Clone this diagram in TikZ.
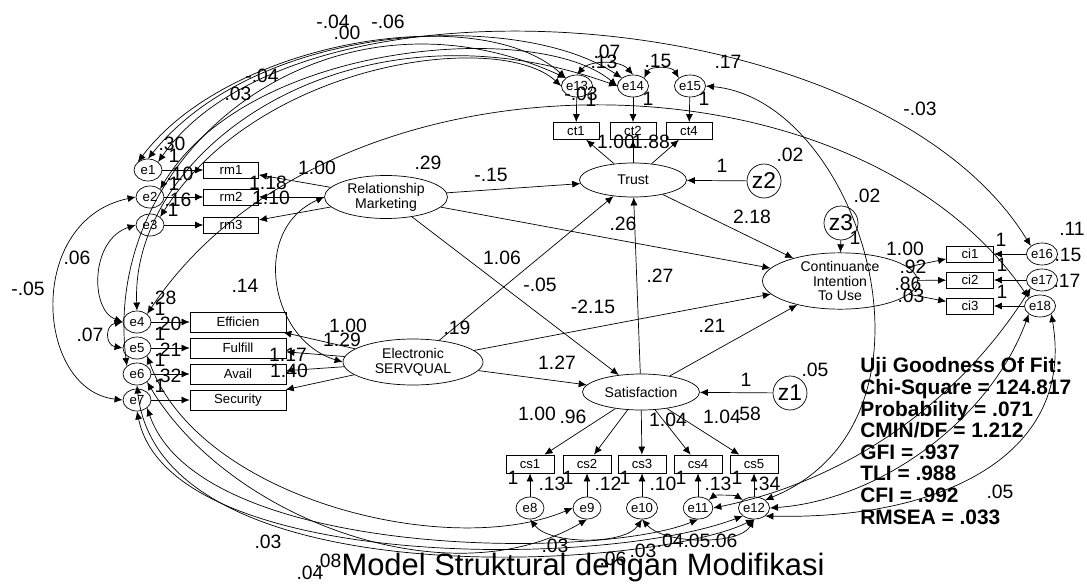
\documentclass[tikz,border=0pt]{standalone}
\usepackage{fontspec}
\setmainfont{Liberation Sans}
\usetikzlibrary{shapes,arrows,arrows.meta}

\begin{document}
\begin{tikzpicture}[x=0.02cm,y=-0.02cm,>={Latex[length=4.6pt,width=4pt]},
  ind/.style={draw,rectangle,inner sep=0pt,font=\fontsize{7.5}{8}\selectfont},
  err/.style={draw,ellipse,minimum width=0.56cm,minimum height=0.44cm,inner sep=0pt,font=\fontsize{7.5}{8}\selectfont},
  lat/.style={draw,ellipse,inner sep=0pt,align=center,font=\fontsize{8}{8.4}\selectfont},
  dist/.style={draw,circle,minimum size=0.68cm,inner sep=0pt,font=\fontsize{13}{14}\selectfont},
  num/.style={inner sep=0pt,font=\fontsize{11}{12}\selectfont}]
\useasboundingbox (0,0) rectangle (1087,584);

% latent variables
\node[lat,minimum width=2.46cm,minimum height=0.86cm] (RM) at (386,197) {Relationship\\Marketing};
\node[lat,minimum width=2.8cm,minimum height=0.92cm] (ES) at (413,362) {Electronic\\SERVQUAL};
\node[lat,minimum width=2.14cm,minimum height=0.68cm] (Trust) at (633,180) {Trust};
\node[lat,minimum width=2.34cm,minimum height=0.72cm] (Sat) at (641,392) {Satisfaction};
\node[lat,minimum width=3.1cm,minimum height=1.06cm] (CI) at (840,281) {Continuance\\Intention\\To Use};
\node[dist] (z2) at (764,181) {z2};
\node[dist] (z3) at (841,223) {z3};
\node[dist] (z1) at (790,393) {z1};

% indicators
\node[ind,minimum width=1.1cm,minimum height=0.32cm] (rm1) at (231,170) {rm1};
\node[ind,minimum width=1.1cm,minimum height=0.32cm] (rm2) at (231,197) {rm2};
\node[ind,minimum width=1.1cm,minimum height=0.32cm] (rm3) at (231,225) {rm3};
\node[ind,minimum width=1.92cm,minimum height=0.4cm] (eff) at (238,322) {Efficien};
\node[ind,minimum width=1.92cm,minimum height=0.4cm] (ful) at (238,348) {Fulfill};
\node[ind,minimum width=1.92cm,minimum height=0.4cm] (ava) at (238,374) {Avail};
\node[ind,minimum width=1.92cm,minimum height=0.4cm] (sec) at (238,400) {Security};
\node[ind,minimum width=0.92cm,minimum height=0.34cm] (ct1) at (576,131) {ct1};
\node[ind,minimum width=0.92cm,minimum height=0.34cm] (ct2) at (633,131) {ct2};
\node[ind,minimum width=0.92cm,minimum height=0.34cm] (ct4) at (689,131) {ct4};
\node[ind,minimum width=0.94cm,minimum height=0.32cm] (ci1) at (970,254) {ci1};
\node[ind,minimum width=0.94cm,minimum height=0.32cm] (ci2) at (970,280) {ci2};
\node[ind,minimum width=0.94cm,minimum height=0.32cm] (ci3) at (970,306) {ci3};
\node[ind,minimum width=0.96cm,minimum height=0.36cm] (cs1) at (530,464) {cs1};
\node[ind,minimum width=0.96cm,minimum height=0.36cm] (cs2) at (587,464) {cs2};
\node[ind,minimum width=0.96cm,minimum height=0.36cm] (cs3) at (642,464) {cs3};
\node[ind,minimum width=0.96cm,minimum height=0.36cm] (cs4) at (698,464) {cs4};
\node[ind,minimum width=0.96cm,minimum height=0.36cm] (cs5) at (754,464) {cs5};

% errors
\node[err] (e1) at (148,170) {e1};
\node[err] (e2) at (150,197) {e2};
\node[err] (e3) at (150,225) {e3};
\node[err] (e4) at (137,322) {e4};
\node[err] (e5) at (137,348) {e5};
\node[err] (e6) at (137,374) {e6};
\node[err] (e7) at (137,400) {e7};
\node[err] (e13) at (577,86) {e13};
\node[err] (e14) at (633,86) {e14};
\node[err] (e15) at (690,86) {e15};
\node[err] (e16) at (1042,254) {e16};
\node[err] (e17) at (1042,280) {e17};
\node[err] (e18) at (1040,306) {e18};
\node[err] (e8) at (530,508) {e8};
\node[err] (e9) at (587,508) {e9};
\node[err] (e10) at (642,508) {e10};
\node[err] (e11) at (698,508) {e11};
\node[err] (e12) at (754,508) {e12};

% measurement paths
\draw[->] (RM) -- (rm1);
\draw[->] (RM) -- (rm2);
\draw[->] (RM) -- (rm3);
\draw[->] (ES) -- (eff);
\draw[->] (ES) -- (ful);
\draw[->] (ES) -- (ava);
\draw[->] (ES) -- (sec);
\draw[->] (Trust) -- (ct1);
\draw[->] (Trust) -- (ct2);
\draw[->] (Trust) -- (ct4);
\draw[->] (CI) -- (ci1);
\draw[->] (CI) -- (ci2);
\draw[->] (CI) -- (ci3);
\draw[->] (Sat) -- (cs1);
\draw[->] (Sat) -- (cs2);
\draw[->] (Sat) -- (cs3);
\draw[->] (Sat) -- (cs4);
\draw[->] (Sat) -- (cs5);
\draw[->] (e1) -- (rm1);
\draw[->] (e2) -- (rm2);
\draw[->] (e3) -- (rm3);
\draw[->] (e4) -- (eff);
\draw[->] (e5) -- (ful);
\draw[->] (e6) -- (ava);
\draw[->] (e7) -- (sec);
\draw[->] (e13) -- (ct1);
\draw[->] (e14) -- (ct2);
\draw[->] (e15) -- (ct4);
\draw[->] (e16) -- (ci1);
\draw[->] (e17) -- (ci2);
\draw[->] (e18) -- (ci3);
\draw[->] (e8) -- (cs1);
\draw[->] (e9) -- (cs2);
\draw[->] (e10) -- (cs3);
\draw[->] (e11) -- (cs4);
\draw[->] (e12) -- (cs5);

% structural paths
\draw[->] (RM) -- (Trust);
\draw[->] (RM) -- (Sat);
\draw[->] (RM) -- (CI);
\draw[->] (ES) -- (Trust);
\draw[->] (ES) -- (Sat);
\draw[->] (ES) -- (CI);
\draw[->] (Sat) -- (Trust);
\draw[->] (Sat) -- (CI);
\draw[->] (Trust) -- (CI);
\draw[->] (z2) -- (Trust);
\draw[->] (z3) -- (CI);
\draw[->] (z1) -- (Sat);
\draw[<->] (RM.west) .. controls (250,230) and (270,340) .. (ES.west);

% covariances, top
\draw[<->] (e1.north west) .. controls (230,40) and (480,0) .. (e13.north west);
\draw[<->] (e1.north) .. controls (260,20) and (520,10) .. (e14.north west);
\draw[<->] (e2.north east) .. controls (250,40) and (540,20) .. (e14.west);
\draw[<->] (e3.north east) .. controls (260,60) and (500,30) .. (e13.west);
\draw[<->] (e1.north east) .. controls (300,-40) and (880,0) .. (e16.north west);
\draw[<->] (e13.north) .. controls (590,60) and (620,60) .. (e14.north);
\draw[<->] (e14.north east) .. controls (650,66) and (672,66) .. (e15.north west);
\draw[<->] (e15.east) .. controls (860,100) and (960,420) .. (e12.north east);
\draw[<->] (e4.north east) .. controls (330,40) and (850,40) .. (e18.north west);
\draw[<->] (e6.north west) .. controls (100,150) and (330,-30) .. (e13.north west);
\draw[<->] (e4.north) .. controls (130,150) and (350,-10) .. (e14.west);
% covariances, left
\draw[<->] (e2.west) .. controls (25,220) and (35,390) .. (e7.west);
\draw[<->] (e3.west) .. controls (90,240) and (90,310) .. (e4.west);
\draw[<->] (e4.west) .. controls (105,325) and (105,345) .. (e5.west);
% covariances, bottom
\draw[<->] (e5.south east) .. controls (200,500) and (450,560) .. (e9.west);
\draw[<->] (e6.south east) .. controls (230,520) and (450,600) .. (e9.south);
\draw[<->] (e7.south) .. controls (170,570) and (600,570) .. (e12.south west);
\draw[<->] (e7.south east) .. controls (200,560) and (600,560) .. (e11.south);
\draw[<->] (e6.south) .. controls (160,600) and (650,570) .. (e12.south);
\draw[<->] (e8.south) .. controls (550,545) and (625,545) .. (e10.south);
\draw[<->] (e10.south) .. controls (665,545) and (740,545) .. (e12.south);
\draw[<->] (e11.north east) .. controls (715,495) and (735,495) .. (e12.north west);
% covariances, right
\draw[<->] (e17.south west) .. controls (960,400) and (850,480) .. (e11.east);
\draw[<->] (e18.south west) .. controls (990,420) and (880,500) .. (e12.east);
\draw[<->] (e18.south east) .. controls (1075,450) and (950,520) .. (e12.south east);

% estimates
\foreach \t/\x/\y [count=\i] in {-.04/333/22, .00/347/33, -.06/388/22, -.04/262/76, .03/238/94,
  .07/607/52, .13/604/62, .15/658/61, .17/728/62, -.03/581/94, 1/591/100, 1/648/99, 1/704/99,
  -.03/920/109, .02/790/155, .02/867/196,
  .30/172/144, 1/174/156, .10/180/174, 1/174/184, .16/178/200, 1/173/210,
  1.00/317/168, 1.18/268/183, 1.10/271/198, .29/428/163, -.15/491/175, 1/722/166,
  1.00/616/142, 1.88/651/142, 2.18/752/217, 1/855/238,
  .26/623/224, .27/660/276, 1.06/502/258, -.05/540/285, -2.15/593/307, .19/457/328, 1.27/557/363, .21/712/326,
  .14/245/286, .06/77/258, -.05/28/289, .07/90/335, .28/163/298, 1/160/309, .20/168/324, 1/160/334,
  .21/168/350, 1/160/360, .32/168/376, 1/160/386,
  1.00/348/326, 1.29/342/340, 1.17/288/355, 1.40/289/371,
  1.00/905/249, .92/913/267, .86/908/284, .03/911/296, 1/1001/240, 1/1002/265, 1/1002/292,
  .11/1072/229, .15/1068/255, .17/1067/281, .05/815/370, 1/746/380,
  1.00/537/414, .96/573/417, 1.04/668/420, 1.04/722/417, 58/750/414,
  1/513/478, .13/552/484, 1/568/478, .12/608/484, 1/625/478, .10/663/484, 1/681/478, .13/718/484,
  1/737/478, .34/767/484,
  .03/555/546, .04.05.06/697/541, .06/613/559, .03/643/551, .03/268/542, .08/328/561, .04/310/573, .05/1000/492}
  \node[num] (est\i) at (\x,\y) {\t};

% fit and title
\node[anchor=west,align=left,inner sep=0pt,font=\fontsize{11.9}{12.3}\bfseries] (fit) at (860,441)
  {Uji Goodness Of Fit:\\Chi-Square = 124.817\\Probability = .071\\CMIN/DF = 1.212\\GFI = .937\\TLI = .988\\CFI = .992\\RMSEA = .033};
\node[font=\fontsize{17.6}{18}\selectfont,inner sep=0pt] (title) at (583,567) {Model Struktural dengan Modifikasi};
\end{tikzpicture}
\end{document}
